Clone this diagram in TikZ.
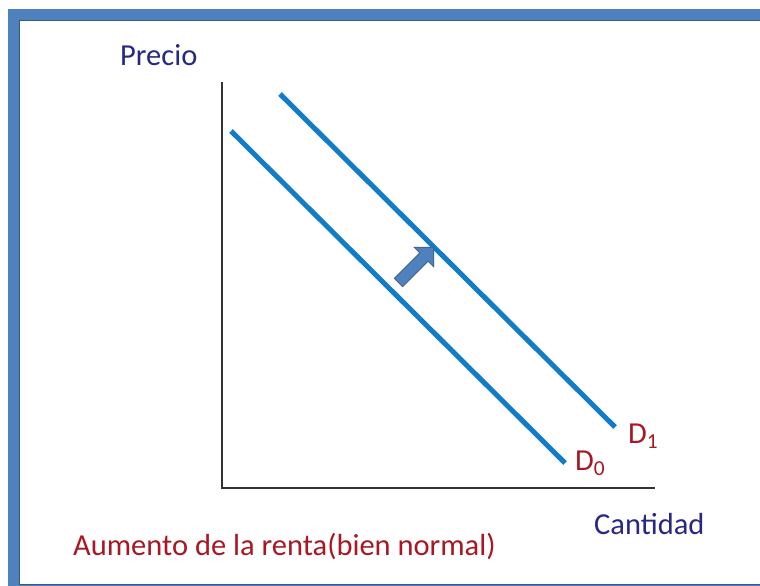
\documentclass[tikz,border=0pt]{standalone}
\usepackage{xcolor}
\usepackage{fontspec}
\setmainfont{Carlito}
\usepackage{tikz}
\usetikzlibrary{positioning, shapes, shapes.arrows, calc}
\definecolor{frameblue}{RGB}{79,129,189}
\definecolor{curveblue}{RGB}{18,124,200}
\definecolor{labelblue}{RGB}{38,40,130}
\definecolor{labelred}{RGB}{168,24,36}
\newcommand{\txt}{\fontsize{30.5}{33}\selectfont}

\begin{document}
\begin{tikzpicture}[x=1pt,y=-1pt,
  curve/.style={curveblue,line width=5pt},
  axis/.style={black!80,line width=2.6pt},
  lbl/.style={inner sep=0pt,anchor=base west,font=\txt}]
\useasboundingbox (0,0) rectangle (760,586);
\clip (0,0) rectangle (760,586);
% frame round the picture
\fill[white] (-5,-5) rectangle (765,591);
\draw[frameblue,line width=11pt] (13.5,14.5) rectangle (800,590);
\draw[frameblue!70!black,line width=0.6pt] (19,20) rectangle (800,584);
% axes
\coordinate (origin) at (222,488);
\coordinate (ytop) at (222,82);
\coordinate (xend) at (655,488);
\draw[axis] (ytop) -- (origin) -- (xend);
% demand curves
\coordinate (d0a) at (231,131);
\coordinate (d0b) at (565,463);
\coordinate (d1a) at (280,94);
\coordinate (d1b) at (615,427);
\draw[curve] (d0a) -- (d0b);
\draw[curve] (d1a) -- (d1b);
% shift arrow
\node[single arrow,draw=frameblue!70!black,fill=frameblue,line width=0.8pt,
  rotate=45,minimum height=50pt,single arrow head extend=8pt,
  single arrow tip angle=90,inner sep=5.5pt] (shift) at (414,267) {};
% labels
\node[lbl,labelblue] (precio) at (120,66) {Precio};
\node[lbl,labelblue] (cantidad) at (594,534) {Cantidad};
\node[lbl,labelred] (dzero) at (575,470) {D\textsubscript{0}};
\node[lbl,labelred] (done) at (628,443) {D\textsubscript{1}};
\node[lbl,labelred] (caption) at (73,555) {Aumento de la renta(bien normal)};
\end{tikzpicture}
\end{document}
